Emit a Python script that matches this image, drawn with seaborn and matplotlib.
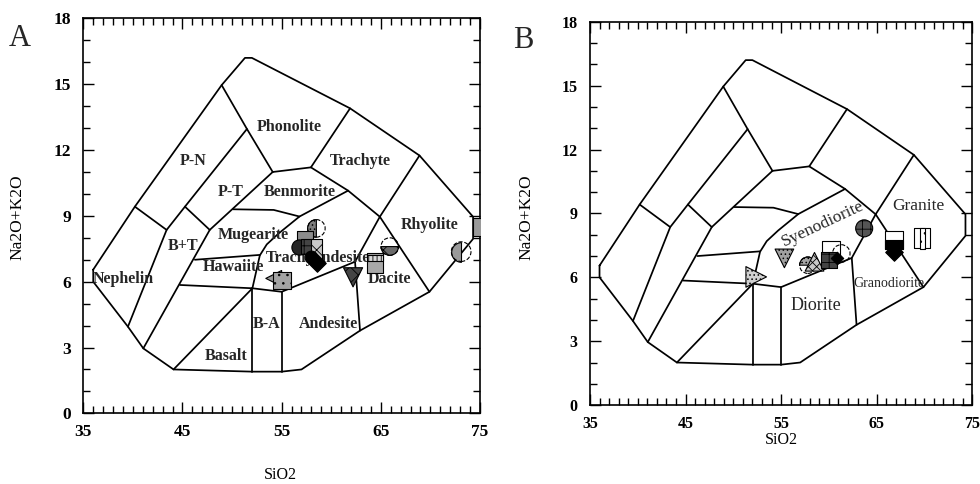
import matplotlib
matplotlib.use("Agg")
import matplotlib.pyplot as plt
from matplotlib.markers import MarkerStyle
from matplotlib.transforms import Affine2D
from matplotlib.ticker import MultipleLocator, FixedLocator
import pandas as pd
import seaborn as sns

# ---- TAS classification field boundaries (SiO2 wt%, Na2O+K2O wt%) ----
outline_x = [36.0, 40.2, 48.95, 51.3, 52.0, 61.9, 68.9, 74.3, 74.3, 69.9, 62.9, 57.0, 55.0, 52.05, 44.1, 41.05, 39.5, 36.0, 36.0]
outline_y = [6.55, 9.42, 14.96, 16.2, 16.2, 13.9, 11.75, 8.96, 7.95, 5.54, 3.77, 2.0, 1.9, 1.9, 2.0, 2.96, 3.95, 6.0, 6.55]

phonolite_left_x = [48.95, 51.5, 54.1]
phonolite_left_y = [14.96, 12.96, 11.0]
pn_pt_x = [51.5, 45.25, 43.4, 39.5]
pn_pt_y = [12.96, 9.42, 8.36, 3.95]
nephelinite_top_x = [40.2, 43.4]
nephelinite_top_y = [9.42, 8.36]
pt_bt_x = [45.25, 47.75]
pt_bt_y = [9.42, 8.36]
tephrite_x = [54.1, 47.75, 41.05]
tephrite_y = [11.0, 8.36, 2.96]
benmorite_top_x = [54.1, 57.95, 61.9]
benmorite_top_y = [11.0, 11.21, 13.9]
trachyte_base_x = [57.95, 61.7, 64.9, 69.9]
trachyte_base_y = [11.21, 10.15, 8.96, 5.54]
rhyolite_left_x = [64.9, 68.9]
rhyolite_left_y = [8.96, 11.75]
mugearite_top_x = [50.1, 54.2, 56.8]
mugearite_top_y = [9.3, 9.27, 8.97]
trachyandesite_left_x = [52.05, 52.8, 53.5, 54.7, 56.8, 61.7]
trachyandesite_left_y = [5.70, 7.2, 7.7, 8.2, 8.97, 10.15]
hawaiite_top_x = [46.25, 52.8]
hawaiite_top_y = [7.0, 7.22]
basalt_top_x = [44.75, 52.05, 55.0, 62.4, 64.9]
basalt_top_y = [5.85, 5.70, 5.54, 6.91, 8.96]
basalt_left_x = [44.1, 52.05]
basalt_left_y = [2.0, 5.70]
ba_left_x = [52.05, 52.05]
ba_left_y = [1.9, 5.70]
ba_right_x = [55.0, 55.0]
ba_right_y = [1.9, 5.54]
andesite_dacite_x = [62.4, 62.9]
andesite_dacite_y = [6.91, 3.77]

boundaries = [
    (outline_x, outline_y), (phonolite_left_x, phonolite_left_y), (pn_pt_x, pn_pt_y),
    (nephelinite_top_x, nephelinite_top_y), (pt_bt_x, pt_bt_y), (tephrite_x, tephrite_y),
    (benmorite_top_x, benmorite_top_y), (trachyte_base_x, trachyte_base_y),
    (rhyolite_left_x, rhyolite_left_y), (mugearite_top_x, mugearite_top_y),
    (trachyandesite_left_x, trachyandesite_left_y), (hawaiite_top_x, hawaiite_top_y),
    (basalt_top_x, basalt_top_y), (basalt_left_x, basalt_left_y), (ba_left_x, ba_left_y),
    (ba_right_x, ba_right_y), (andesite_dacite_x, andesite_dacite_y),
]

# ---- axis ticks ----
sio2_ticks = [35, 45, 55, 65, 75]
alk_ticks = [0, 3, 6, 9, 12, 15, 18]

# ---- field names ----
volcanic_names = ["Phonolite", "Trachyte", "P-N", "P-T", "Benmorite", "Rhyolite", "Mugearite", "B+T",
                  "Hawaiite", "Trachyandesite", "Nephelin", "Dacite", "Andesite", "B-A", "Basalt"]
volcanic_name_x = [55.8, 62.9, 46.1, 49.9, 56.8, 69.9, 52.1, 45.1, 50.1, 58.7, 39.0, 65.9, 59.7, 53.5, 49.4]
volcanic_name_y = [13.07, 11.5, 11.5, 10.1, 10.08, 8.59, 8.12, 7.63, 6.66, 7.1, 6.11, 6.11, 4.07, 4.07, 2.61]

plutonic_names = ["Syenodiorite", "Granite", "Granodiorite", "Diorite"]
plutonic_name_x = [59.35, 69.4, 66.25, 58.66]
plutonic_name_y = [8.5, 9.34, 5.71, 4.69]

# ---- samples ----
a_sio2 = [58.5, 57.35, 56.7, 57.7, 58.55, 58.0, 58.55, 54.2, 55.05, 62.2, 64.4, 65.9, 73.1, 75.05]
a_alk = [8.43, 7.93, 7.59, 7.6, 7.47, 7.14, 6.84, 6.15, 6.05, 6.2, 6.84, 7.6, 7.37, 8.5]
a_symbol = ["half_left", "sq_gray", "circ_dark", "sq_check", "rect_xx", "circ_black", "diamond",
            "tri_left", "sq_dots", "tri_down_dark", "rect_strip", "half_bottom", "half_left_big", "rect_gray"]

b_sio2 = [52.4, 55.35, 57.8, 58.5, 60.2, 61.3, 60.05, 60.9, 63.7, 66.8, 66.8, 69.8]
b_alk = [6.02, 6.89, 6.57, 6.73, 7.28, 7.12, 6.81, 6.89, 8.3, 7.75, 7.2, 7.83]
b_symbol = ["tri_right", "tri_down_light", "half_top", "tri_up_xx", "sq_open", "circ_dash",
            "sq_check", "diamond_small", "circ_flower", "half_sq", "diamond", "rect_open"]


def ms(m, fill="full", sx=1.0, sy=1.0, dy=0.0):
    return MarkerStyle(m, fillstyle=fill, transform=Affine2D().scale(sx, sy).translate(0, dy))


DASHED = dict(marker="o", color="none", edgecolor="black", linewidth=0.8, linestyle="--")
SYMBOLS = {
    "half_left": [dict(marker=ms("o", "left"), s=160, color="#7d7d7d", hatch="...."), dict(DASHED, s=160)],
    "half_left_big": [dict(marker=ms("o", "left"), s=200, color="#9a9a9a"), dict(DASHED, s=200)],
    "half_bottom": [dict(marker=ms("o", "bottom"), s=160, color="#6a6a6a", hatch="xx"), dict(DASHED, s=160)],
    "half_top": [dict(marker=ms("o", "top"), s=140, color="#a5a5a5", hatch="...."), dict(DASHED, s=140)],
    "sq_gray": [dict(marker="s", s=120, color="#8c8c8c")],
    "circ_dark": [dict(marker="o", s=120, color="#262626")],
    "sq_check": [dict(marker="s", s=130, color="#444444", hatch="++")],
    "rect_xx": [dict(marker=ms("s", sx=0.7, sy=1.3), s=130, color="#c8c8c8", hatch="xx")],
    "circ_black": [dict(marker="o", s=85, color="black")],
    "diamond": [dict(marker="D", s=80, color="black")],
    "diamond_small": [dict(marker="D", s=40, color="black")],
    "tri_left": [dict(marker="<", s=130, color="#9a9a9a", hatch="..")],
    "sq_dots": [dict(marker="s", s=160, color="#a3a3a3", hatch="..")],
    "tri_down_dark": [dict(marker="v", s=190, color="#444444", hatch="xx")],
    "tri_down_light": [dict(marker="v", s=180, color="#a0a0a0", hatch="....")],
    "tri_right": [dict(marker=">", s=220, color="#d0d0d0", hatch="....")],
    "tri_up_xx": [dict(marker="^", s=180, color="#c8c8c8", hatch="xxxx")],
    "rect_strip": [dict(marker=ms("s", sx=0.95, sy=1.15), s=160, color="#a8a8a8"),
                   dict(marker=ms("s", sx=0.95, sy=0.3, dy=0.3), s=160, color="#d9d9d9", hatch="||||")],
    "rect_gray": [dict(marker=ms("s", sy=1.25), s=100, color="#9a9a9a")],
    "sq_open": [dict(marker="s", s=160, color="white")],
    "circ_dash": [dict(DASHED, s=160)],
    "circ_flower": [dict(marker="o", s=150, color="#555555", hatch="++")],
    "half_sq": [dict(marker="s", s=180, color="white"), dict(marker=ms("s", "bottom"), s=180, color="black")],
    "rect_open": [dict(marker=ms("s", sx=0.85, sy=1.1), s=180, color="white"),
                  dict(marker=ms("s", sx=0.3, sy=1.1), s=180, color="white", hatch="..")],
}

sns.set_theme(style="ticks")
plt.rcParams["font.family"] = ["Liberation Serif", "DejaVu Serif"]
plt.rcParams["hatch.color"] = "black"
plt.rcParams["hatch.linewidth"] = 0.6

fig = plt.figure(figsize=(9.8, 4.84), dpi=100)
fig.patch.set_facecolor("white")
axA = fig.add_axes([0.085, 0.146, 0.4048, 0.816])
axB = fig.add_axes([0.602, 0.163, 0.39, 0.792])


def draw_fields(ax):
    for xs, ys in boundaries:
        sns.lineplot(x=xs, y=ys, sort=False, estimator=None, color="black",
                     linewidth=1.25, ax=ax, zorder=2)


def draw_samples(ax, sio2, alk, symbols):
    df = pd.DataFrame({"SiO2": sio2, "alk": alk, "symbol": symbols})
    for i, row in df.iterrows():
        for layer in SYMBOLS[row["symbol"]]:
            kw = dict(edgecolor="black", linewidth=0.8)
            kw.update(layer)
            sns.scatterplot(data=df.iloc[[i]], x="SiO2", y="alk", ax=ax, legend=False,
                            zorder=4, **kw)


def style_axes(ax, tick_size, xlab_pos, ylab_pos):
    ax.set_xlim(35, 75)
    ax.set_ylim(0, 18)
    ax.xaxis.set_major_locator(FixedLocator(sio2_ticks))
    ax.xaxis.set_minor_locator(MultipleLocator(1))
    ax.yaxis.set_major_locator(FixedLocator(alk_ticks))
    ax.yaxis.set_minor_locator(MultipleLocator(1))
    ax.tick_params(which="both", direction="in", top=True, right=True, color="black", width=1.0)
    ax.tick_params(which="major", length=8, labelsize=tick_size, labelcolor="black")
    ax.tick_params(axis="x", which="major", pad=8)
    ax.tick_params(axis="y", which="major", pad=9)
    ax.tick_params(which="minor", length=5)
    for lab in ax.get_xticklabels() + ax.get_yticklabels():
        lab.set_fontweight("bold")
    for sp in ax.spines.values():
        sp.set_visible(True)
        sp.set_linewidth(1.2)
        sp.set_color("black")
    ax.set_facecolor("white")
    ax.set_xlabel("SiO2", fontsize=11.5, color="black")
    ax.set_ylabel("Na2O+K2O", fontsize=12.5, color="black")
    ax.xaxis.set_label_coords(*xlab_pos)
    ax.yaxis.set_label_coords(*ylab_pos)
    ax.xaxis.label.set_va("center")
    ax.yaxis.label.set_va("center")


# Panel A: volcanic nomenclature
draw_fields(axA)
for name, x, y in zip(volcanic_names, volcanic_name_x, volcanic_name_y):
    axA.text(x, y, name, ha="center", va="center", fontsize=11.5, fontweight="bold", zorder=3)
draw_samples(axA, a_sio2, a_alk, a_symbol)
style_axes(axA, 12.5, (0.496, -0.156), (-0.165, 0.497))

# Panel B: plutonic equivalents
draw_fields(axB)
label_style = {"Syenodiorite": dict(fontsize=12.5, rotation=25),
               "Granite": dict(fontsize=12.5),
               "Granodiorite": dict(fontsize=10),
               "Diorite": dict(fontsize=13)}
for name, x, y in zip(plutonic_names, plutonic_name_x, plutonic_name_y):
    axB.text(x, y, name, ha="center", va="center", zorder=3, **label_style[name])
draw_samples(axB, b_sio2, b_alk, b_symbol)
style_axes(axB, 11.5, (0.502, -0.092), (-0.165, 0.49))

fig.text(20 / 980, 1 - 38 / 484, "A", ha="center", va="center", fontsize=22)
fig.text(523 / 980, 1 - 40 / 484, "B", ha="center", va="center", fontsize=22)

fig.savefig("out.png", dpi=100, facecolor="white")
